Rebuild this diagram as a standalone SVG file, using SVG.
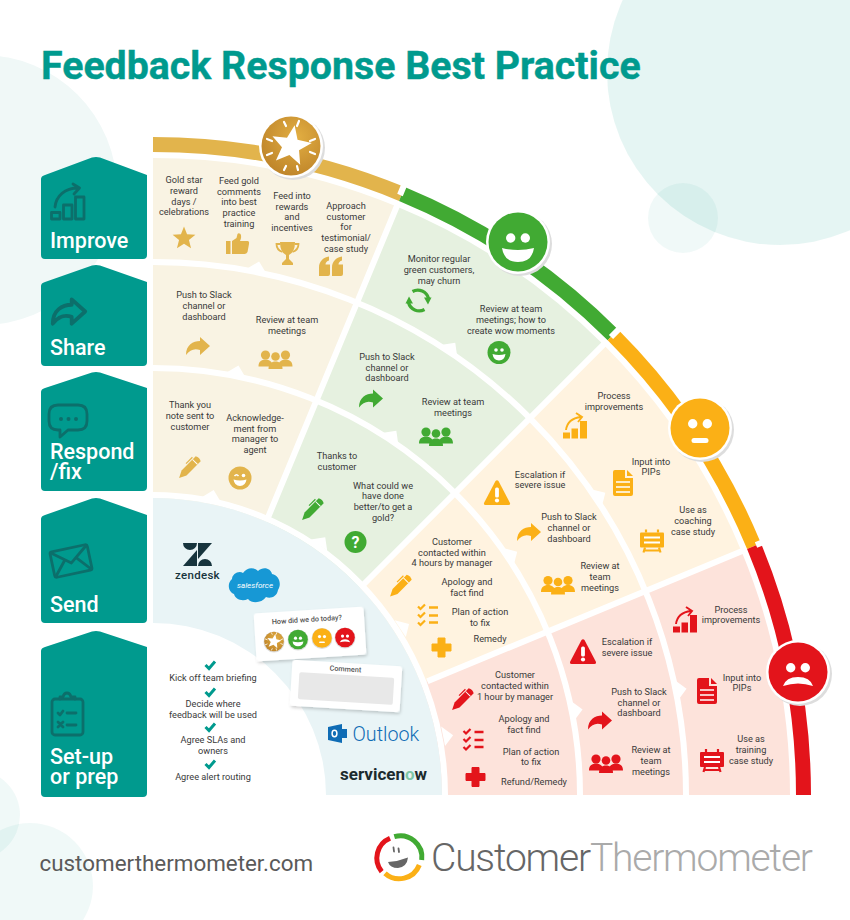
<svg xmlns="http://www.w3.org/2000/svg" width="850" height="920" viewBox="0 0 850 920">
<style>
text{font-family:Roboto,"Liberation Sans",sans-serif}
.t{font-size:9.2px;text-anchor:middle;fill:#3a3a3a}
.lab{font-size:21.5px;font-weight:500;fill:#fff}
.box{fill:#009A8E}
.di{fill:none;stroke:#0C6F6B;stroke-width:2.800;stroke-linejoin:round;stroke-linecap:round}
.g{color:#E2B44C;fill:#E2B44C}
.gr{color:#41AA33;fill:#41AA33}
.a{color:#FBB016;fill:#FBB016}
.r{color:#E3141B;fill:#E3141B}
.ring{fill:none;stroke:#fff;stroke-width:6}
.rad{fill:none;stroke:#fff;stroke-width:6}
.band{fill:none;stroke-width:15}
.card{fill:#fff;filter:url(#sh)}
.ck{fill:none;stroke:#009A8E;stroke-width:3}
</style>
<defs>
<filter id="sh" x="-20%" y="-20%" width="140%" height="140%"><feDropShadow dx="1" dy="2" stdDeviation="1.500" flood-color="#000" flood-opacity=".18"/></filter>
<radialGradient id="gold" cx=".6" cy=".35" r=".8"><stop offset="0" stop-color="#E2AE42"/><stop offset="1" stop-color="#B97E26"/></radialGradient>
<polygon id="tab" points="-11,2 0,-8 9,2" fill="#fff"/>
<polygon id="i-star" points="0,-12 3.06,-4.2 11.4,-3.7 4.95,1.6 7.05,9.7 0,5.2 -7.05,9.7 -4.95,1.6 -11.4,-3.7 -3.06,-4.2"/>
<path id="i-arrow" d="M-12,9C-12,-1-5,-5 2,-5L2,-9 12,0 2,9 2,4C-4,2-8,4-12,9Z"/>
<g id="i-people"><circle cx="-10" cy="-4.500" r="4.600"/><circle cx="10" cy="-4.500" r="4.600"/><circle cx="0" cy="-3" r="4.300"/><path d="M-17,7C-17,2-14,0-10,0-6,0-3,2-3,7ZM3,7C3,2 6,0 10,0 14,0 17,2 17,7Z"/><path d="M-7,9.500C-7,4-4,2 0,2 4,2 7,4 7,9.500Z"/></g>
<g id="i-pencil" transform="rotate(45)"><path d="M-3.500,-13Q0,-15 3.500,-13V7L0,14-3.500,7Z"/><path d="M-3.500,-8.500H3.500" stroke="#fff" stroke-width="1"/><path d="M-5.200,-10V-1" fill="none" stroke="currentColor" stroke-width="1.200"/></g>
<g id="i-smile"><circle r="11.500"/><circle cx="-3" cy="-2.500" r="1.800" fill="#fff"/><circle cx="3" cy="-2.500" r="1.800" fill="#fff"/><path d="M-6.500,1.500Q0,3.500 6.500,1.500 5.500,8 0,8-5.500,8-6.500,1.500Z" fill="#fff"/></g>
<g id="i-wink"><circle r="11.500"/><path d="M-5.500,-2Q-3.500,-4.500-1.500,-2" fill="none" stroke="#fff" stroke-width="1.500"/><circle cx="3.500" cy="-2.500" r="1.800" fill="#fff"/><path d="M-6.500,1.500Q0,3.500 6.500,1.500 5.500,8 0,8-5.500,8-6.500,1.500Z" fill="#fff"/></g>
<g id="i-refresh" fill="none" stroke="currentColor" stroke-width="3.200"><path d="M-6,-9A11,11 0 0 1 10,-2"/><path d="M6,9A11,11 0 0 1 -10,2"/><polygon points="5.500,-3 13,-3 9.500,4" fill="currentColor" stroke="none"/><polygon points="-5.500,3 -13,3 -9.500,-4" fill="currentColor" stroke="none"/></g>
<g id="i-warn"><path d="M-1.500,-11.500Q0,-13 1.500,-11.500L13,10.500Q13.500,12.500 11.500,12.500H-11.500Q-13.500,12.500 -13,10.500Z"/><rect x="-1.900" y="-5" width="3.800" height="10" rx="1.500" fill="#fff"/><circle cy="8" r="2.100" fill="#fff"/></g>
<g id="i-chart"><rect x="-12" y="6.500" width="7" height="6"/><rect x="-3.500" y="2.500" width="6.500" height="10"/><rect x="5" y="-5" width="7" height="17.500"/><path d="M-9,4C-8,-4-2,-8 6,-9M1,-13 7,-9 3,-4" fill="none" stroke="currentColor" stroke-width="1.900"/></g>
<g id="i-doc"><path d="M-10,-11Q-10,-13-8,-13H2V-5H10V11Q10,13 8,13H-8Q-10,13-10,11Z"/><path d="M4,-13 10,-7H4Z"/><path d="M-7,-1H7M-7,4H7M-7,9H7" stroke="#fff" stroke-width="1.700" fill="none"/></g>
<g id="i-easel"><rect x="-12" y="-8" width="24" height="15" rx="1"/><path d="M-6,-11V-8M6,-11V-8M-7,7-8.500,12M7,7 8.500,12M-7,10H7" fill="none" stroke="currentColor" stroke-width="2.200"/><path d="M-8,-3H8M-8,2H8" stroke="#fff" stroke-width="2" fill="none"/></g>
<g id="i-list" fill="none" stroke="currentColor" stroke-width="2.200"><path d="M-10,-8-7.500,-5.500-3,-10M-10,0-7.500,2.500-3,-2M-10,8-7.500,10.500-3,6"/><path d="M1,-7H10M1,1H10M1,8H10" stroke-width="2.400"/></g>
<path id="i-plus" d="M-3.500,-9.500H3.500V-3.500H9.500V3.500H3.500V9.500H-3.500V3.500H-9.500V-3.500H-3.500Z" stroke="currentColor" stroke-width="1" stroke-linejoin="round"/>
<path id="i-thumb" d="M-11.500,-3H-7V10H-11.500ZM-5.500,-3-1,-6 0,-10Q1,-11.500 3,-10 4.500,-7 2.500,-3H10Q12,-3 11.500,0L10,8Q9,10 7,10H-5.500Z"/>
<g id="i-trophy"><path d="M-7.500,-11H7.500Q7.500,-1 1.500,2V6L5.500,10V12H-5.500V10L-1.500,6V2Q-7.500,-1-7.500,-11Z"/><path d="M-7,-9H-11Q-11,-3-5,-1M7,-9H11Q11,-3 5,-1" fill="none" stroke="currentColor" stroke-width="1.800"/></g>
<path id="i-quote" d="M-12,9.500V1C-12,-5-8,-9-2,-10V-6C-4,-5.500-5.500,-4-5.500,-2H-1V7.500Q-1,9.500-3,9.500ZM1,9.500V1C1,-5 5,-9 11,-10V-6C9,-5.500 7.500,-4 7.500,-2H12V7.500Q12,9.500 10,9.500Z"/>
<g id="f-happy"><circle cx="-7.300" cy="-4" r="4.700" fill="#fff"/><circle cx="7.300" cy="-4" r="4.700" fill="#fff"/><path d="M-16,6Q0,10 16,6 14,20 0,20-14,20-16,6Z" fill="#fff"/></g>
<g id="f-neutral"><circle cx="-7.300" cy="-4.300" r="4.700" fill="#fff"/><circle cx="7.300" cy="-4.300" r="4.700" fill="#fff"/><rect x="-8.500" y="10" width="17" height="5" rx="2.500" fill="#fff"/></g>
<g id="f-sad"><circle cx="-7.300" cy="-4.300" r="4.700" fill="#fff"/><circle cx="7.300" cy="-4.300" r="4.700" fill="#fff"/><path d="M-15,14Q-12,5 0,5 12,5 15,14 0,9-15,14Z" fill="#fff"/></g>
<g id="f-star"><polygon transform="rotate(10) scale(1.750)" points="0,-12 3.06,-4.200 11.400,-3.700 4.950,1.600 7.050,9.700 0,5.200 -7.050,9.700 -4.950,1.600 -11.400,-3.700 -3.060,-4.200" fill="#fff"/><path d="M-7,-24-5,-20M8,-25 6,-20M24,-7 19,-5M24,8 19,6M-24,-7-19,-5M-24,9-19,7M-7,24-5,20M7,24 6,20" stroke="#fff" stroke-width="2.200" stroke-linecap="round" fill="none"/></g>
</defs>

<rect width="850" height="920" fill="#fff"/>
<g id="background">
<circle cx="-18" cy="190" r="135" fill="#F0F8F7"/>
<circle cx="780" cy="72" r="173" fill="#009A8E" opacity=".1"/>
<circle cx="683" cy="218" r="35" fill="#009A8E" opacity=".06"/>
<circle cx="-25" cy="815" r="45" fill="#009A8E" opacity=".06"/>
<circle cx="30" cy="886" r="63" fill="#009A8E" opacity=".06"/>
</g>
<text id="title" x="41" y="79" font-size="39.300" font-weight="700" fill="#009A8E" stroke="#009A8E" stroke-width=".4">Feedback Response Best Practice</text>

<g id="sectors">
<path d="M153,795V158A637,637 0 0 1 396.800,206.500Z" fill="#F9F3E3"/>
<path d="M153,795 396.800,206.500A637,637 0 0 1 603.400,344.600Z" fill="#E6F1E0"/>
<path d="M153,795 603.400,344.600A637,637 0 0 1 741.500,551.200Z" fill="#FFF3E0"/>
<path d="M153,795 741.500,551.200A637,637 0 0 1 790,795Z" fill="#FDE3DB"/>
<path class="ring" d="M153,262A533,533 0 0 1 686,795"/>
<path class="ring" d="M153,368A427,427 0 0 1 580,795"/>
<path class="ring" d="M153,495A292,300 0 0 1 445,795"/>
<path d="M266.700,520.600 405.600,185.200M363,585 619.700,328.300M427.400,681.300 762.800,542.400" class="rad"/>
<use href="#tab" transform="rotate(11.250 153 795) translate(153 259)"/>
<use href="#tab" transform="rotate(33.750 153 795) translate(153 259)"/>
<use href="#tab" transform="rotate(56.250 153 795) translate(153 259)"/>
<use href="#tab" transform="rotate(78.750 153 795) translate(153 259)"/>
<use href="#tab" transform="rotate(11.250 153 795) translate(153 365)"/>
<use href="#tab" transform="rotate(33.750 153 795) translate(153 365)"/>
<use href="#tab" transform="rotate(56.250 153 795) translate(153 365)"/>
<use href="#tab" transform="rotate(78.750 153 795) translate(153 365)"/>
<use href="#tab" transform="rotate(11.250 153 795) translate(153 492)"/>
<use href="#tab" transform="rotate(33.750 153 795) translate(153 493)"/>
<use href="#tab" transform="rotate(56.250 153 795) translate(153 495)"/>
<use href="#tab" transform="rotate(78.750 153 795) translate(153 497)"/>
<path id="send-zone" d="M153,498A289,297 0 0 1 442,795H153Z" fill="#E9F4F6"/>
<path id="setup-zone" d="M153,623A173,172 0 0 1 326,795H153Z" fill="#fff"/>
</g>

<g id="connectors">
<path class="band" stroke="#E2B44C" d="M153,144.500A650.500,650.500 0 0 1 401.900,194"/>
<path class="band" stroke="#41AA33" d="M401.900,194A650.500,650.500 0 0 1 613,335"/>
<path class="band" stroke="#FBB016" d="M613,335A650.500,650.500 0 0 1 754,546.100"/>
<path class="band" stroke="#E3141B" d="M754,546.100A650.500,650.500 0 0 1 803.500,795"/>
<path d="M400,195 407,178M611,337 624,324M756,545 773,538" class="rad"/>
</g>

<g id="row-improve"><path class="box" d="M45,175 92,157.500Q96,156.500 100,157.500L147,175V255Q147,259 143,259H45Q41,259 41,255V179Q41,176 45,175Z"/>
<path class="di" d="M51.500,212.500H60V219H51.500ZM63.500,205H72V219H63.500ZM75.500,197H84V219H75.500ZM55,207C56,196 65,188 78,188M73,184 79.500,188 74,194"/>
<text class="lab" x="50" y="247.500">Improve</text></g>
<g id="row-share"><path class="box" d="M45,282 92,265.500Q96,264.500 100,265.500L147,282V362Q147,366 143,366H45Q41,366 41,362V286Q41,283 45,282Z"/>
<path class="di" transform="translate(69 311.500) scale(1.350)" stroke-width="2" d="M-12,9C-12,-1-5,-5 2,-5L2,-9 12,0 2,9 2,4C-4,2-8,4-12,9Z"/>
<text class="lab" x="50" y="354.500">Share</text></g>
<g id="row-respond"><path class="box" d="M45,388 92,372.500Q96,371.500 100,372.500L147,388V487Q147,491 143,491H45Q41,491 41,487V392Q41,389 45,388Z"/>
<path class="di" d="M58,405H78Q87,405 87,414V421Q87,430 78,430H68L60,437V430H58Q49,430 49,421V414Q49,405 58,405Z"/>
<circle cx="61" cy="419" r="2" fill="#0C6F6B"/><circle cx="68.500" cy="419" r="2" fill="#0C6F6B"/><circle cx="76" cy="419" r="2" fill="#0C6F6B"/>
<text class="lab"><tspan x="50" y="459">Respond</tspan><tspan x="50" y="479">/fix</tspan></text></g>
<g id="row-send"><path class="box" d="M45,515 92,498.500Q96,497.500 100,498.500L147,515V619Q147,623 143,623H45Q41,623 41,619V519Q41,516 45,515Z"/>
<g transform="rotate(-12 71 561)"><rect class="di" x="52" y="548" width="38" height="26" rx="2"/><path class="di" d="M53,549 71,563 89,549M53,573 65,559M89,573 77,559"/></g>
<text class="lab" x="50" y="612">Send</text></g>
<g id="row-setup"><path class="box" d="M45,647 92,631.500Q96,630.500 100,631.500L147,647V793Q147,797 143,797H45Q41,797 41,793V651Q41,648 45,647Z"/>
<rect class="di" x="52" y="699" width="31" height="36" rx="3"/><path class="di" d="M60,699V697H63Q64,693 67,693 70,693 71,697H75V699M58,713 60,715 63,711M67,713H76M58,722 63,727M63,722 58,727M67,725H76"/>
<text class="lab"><tspan x="50" y="763.500">Set-up</tspan><tspan x="50" y="783.500">or prep</tspan></text></g>

<g id="gold-improve">
<text class="t"><tspan x="184" y="182.500">Gold star</tspan><tspan x="184" y="193.500">reward</tspan><tspan x="184" y="204.500">days /</tspan><tspan x="184" y="215">celebrations</tspan></text>
<text class="t"><tspan x="239" y="183.500">Feed gold</tspan><tspan x="239" y="194.500">comments</tspan><tspan x="239" y="205">into best</tspan><tspan x="239" y="216">practice</tspan><tspan x="239" y="226.500">training</tspan></text>
<text class="t"><tspan x="292" y="198.500">Feed into</tspan><tspan x="292" y="209.500">rewards</tspan><tspan x="292" y="220">and</tspan><tspan x="292" y="231">incentives</tspan></text>
<text class="t"><tspan x="346" y="208.500">Approach</tspan><tspan x="346" y="219.500">customer</tspan><tspan x="346" y="230">for</tspan><tspan x="346" y="241">testimonial/</tspan><tspan x="346" y="251.500">case study</tspan></text>
<use href="#i-star" class="g" transform="translate(184 238.500)"/><use href="#i-thumb" class="g" transform="translate(237.500 244)"/><use href="#i-trophy" class="g" transform="translate(287.500 253)"/><use href="#i-quote" class="g" transform="translate(331 266.500)"/>
</g>
<g id="gold-share">
<text class="t"><tspan x="204" y="297.500">Push to Slack</tspan><tspan x="204" y="308.500">channel or</tspan><tspan x="204" y="319.500">dashboard</tspan></text>
<text class="t"><tspan x="287" y="322.500">Review at team</tspan><tspan x="287" y="333.500">meetings</tspan></text>
<use href="#i-arrow" class="g" transform="translate(198 346)"/><use href="#i-people" class="g" transform="translate(275.500 359.500)"/>
</g>
<g id="gold-respond">
<text class="t"><tspan x="190" y="407.500">Thank you</tspan><tspan x="190" y="418.500">note sent to</tspan><tspan x="190" y="429.500">customer</tspan></text>
<text class="t"><tspan x="255" y="420.500">Acknowledge-</tspan><tspan x="255" y="431.500">ment from</tspan><tspan x="255" y="442">manager to</tspan><tspan x="255" y="453">agent</tspan></text>
<use href="#i-pencil" class="g" transform="translate(189 468)"/><use href="#i-wink" class="g" transform="translate(240 478)"/>
</g>
<g id="green-improve">
<text class="t"><tspan x="439" y="261.500">Monitor regular</tspan><tspan x="439" y="272.500">green customers,</tspan><tspan x="439" y="283.500">may churn</tspan></text>
<text class="t"><tspan x="511" y="311.500">Review at team</tspan><tspan x="511" y="322.500">meetings; how to</tspan><tspan x="511" y="333.500">create wow moments</tspan></text>
<use href="#i-refresh" class="gr" transform="translate(418.500 300.500)"/><use href="#i-smile" class="gr" transform="translate(499 352.500)"/>
</g>
<g id="green-share">
<text class="t"><tspan x="387" y="359.500">Push to Slack</tspan><tspan x="387" y="370.500">channel or</tspan><tspan x="387" y="381">dashboard</tspan></text>
<text class="t"><tspan x="453" y="404.500">Review at team</tspan><tspan x="453" y="415.500">meetings</tspan></text>
<use href="#i-arrow" class="gr" transform="translate(371 398.500)"/><use href="#i-people" class="gr" transform="translate(436 436.500)"/>
</g>
<g id="green-respond">
<text class="t"><tspan x="337" y="458.500">Thanks to</tspan><tspan x="337" y="469.500">customer</tspan></text>
<text class="t"><tspan x="383" y="488.500">What could we</tspan><tspan x="383" y="499">have done</tspan><tspan x="383" y="510">better/to get a</tspan><tspan x="383" y="520.500">gold?</tspan></text>
<use href="#i-pencil" class="gr" transform="translate(312 510)"/>
<circle class="gr" cx="355.500" cy="542" r="11"/><text x="355.500" y="547.500" font-size="16" font-weight="700" fill="#fff" text-anchor="middle">?</text>
</g>
<g id="amber-improve">
<text class="t"><tspan x="614" y="398.500">Process</tspan><tspan x="614" y="409.500">improvements</tspan></text>
<text class="t"><tspan x="651" y="464.500">Input into</tspan><tspan x="651" y="475">PIPs</tspan></text>
<text class="t"><tspan x="693" y="512.500">Use as</tspan><tspan x="693" y="523.500">coaching</tspan><tspan x="693" y="534.500">case study</tspan></text>
<use href="#i-chart" class="a" transform="translate(575 426)"/><use href="#i-doc" class="a" transform="translate(623 483)"/><use href="#i-easel" class="a" transform="translate(652 540.500)"/>
</g>
<g id="amber-share">
<text class="t"><tspan x="540" y="477.500">Escalation if</tspan><tspan x="540" y="488">severe issue</tspan></text>
<text class="t"><tspan x="569" y="519.500">Push to Slack</tspan><tspan x="569" y="530.500">channel or</tspan><tspan x="569" y="541.500">dashboard</tspan></text>
<text class="t"><tspan x="600" y="568.500">Review at</tspan><tspan x="600" y="579.500">team</tspan><tspan x="600" y="590.500">meetings</tspan></text>
<use href="#i-warn" class="a" transform="translate(497 492.500)"/><use href="#i-arrow" class="a" transform="translate(529 532)"/><use href="#i-people" class="a" transform="translate(558 585)"/>
</g>
<g id="amber-respond">
<text class="t"><tspan x="452" y="544.500">Customer</tspan><tspan x="452" y="555.500">contacted within</tspan><tspan x="452" y="566">4 hours by manager</tspan></text>
<text class="t"><tspan x="467" y="584.500">Apology and</tspan><tspan x="467" y="595.500">fact find</tspan></text>
<text class="t"><tspan x="480" y="614.500">Plan of action</tspan><tspan x="480" y="625.500">to fix</tspan></text>
<text class="t" x="490" y="641.500">Remedy</text>
<use href="#i-pencil" class="a" transform="translate(400 586.500)"/><use href="#i-list" class="a" transform="translate(428 614.500)"/><use href="#i-plus" class="a" transform="translate(441.500 647.500)"/>
</g>
<g id="red-improve">
<text class="t"><tspan x="731" y="612.500">Process</tspan><tspan x="731" y="623">improvements</tspan></text>
<text class="t"><tspan x="742" y="680.500">Input into</tspan><tspan x="742" y="691">PIPs</tspan></text>
<text class="t"><tspan x="751" y="741.500">Use as</tspan><tspan x="751" y="752.500">training</tspan><tspan x="751" y="763.500">case study</tspan></text>
<use href="#i-chart" class="r" transform="translate(685 620)"/><use href="#i-doc" class="r" transform="translate(707 691)"/><use href="#i-easel" class="r" transform="translate(712 760)"/>
</g>
<g id="red-share">
<text class="t"><tspan x="627" y="644.500">Escalation if</tspan><tspan x="627" y="655.500">severe issue</tspan></text>
<text class="t"><tspan x="639" y="694.500">Push to Slack</tspan><tspan x="639" y="705.500">channel or</tspan><tspan x="639" y="715.500">dashboard</tspan></text>
<text class="t"><tspan x="651" y="752.500">Review at</tspan><tspan x="651" y="763.500">team</tspan><tspan x="651" y="774.500">meetings</tspan></text>
<use href="#i-warn" class="r" transform="translate(583 651.500)"/><use href="#i-arrow" class="r" transform="translate(600 720.500)"/><use href="#i-people" class="r" transform="translate(606 763.500)"/>
</g>
<g id="red-respond">
<text class="t"><tspan x="515" y="677.500">Customer</tspan><tspan x="515" y="688.500">contacted within</tspan><tspan x="515" y="699.500">1 hour by manager</tspan></text>
<text class="t"><tspan x="524" y="721.500">Apology and</tspan><tspan x="524" y="732.500">fact find</tspan></text>
<text class="t"><tspan x="531" y="754.500">Plan of action</tspan><tspan x="531" y="764.500">to fix</tspan></text>
<text class="t" x="534" y="784.500">Refund/Remedy</text>
<use href="#i-pencil" class="r" transform="translate(462 700)"/><use href="#i-list" class="r" transform="translate(473.500 739)"/><use href="#i-plus" class="r" transform="translate(475.500 777)"/>
</g>

<g id="setup-list">
<path class="ck" d="M205.500,665 209,668.500 215,661.500M205.500,692 209,695.500 215,688.500M205.500,727 209,730.500 215,723.500M205.500,764 209,767.500 215,760.500"/>
<text class="t" x="213" y="680.500">Kick off team briefing</text>
<text class="t"><tspan x="213" y="706.500">Decide where</tspan><tspan x="213" y="717.500">feedback will be used</tspan></text>
<text class="t"><tspan x="213" y="742.500">Agree SLAs and</tspan><tspan x="213" y="753.500">owners</tspan></text>
<text class="t" x="213" y="779.500">Agree alert routing</text>
</g>

<g id="logo-zendesk" fill="#17343D">
<polygon points="183,566 197,566 197,550"/><polygon points="212,543 198,543 198,559"/><path d="M183,543H197A7,7 0 0 1 183,543ZM198,566A7,7 0 0 1 212,566Z"/>
<text x="175" y="579" font-size="11.500" font-weight="500" letter-spacing=".3">zendesk</text>
</g>
<g id="logo-salesforce">
<path d="M243,573C247,567 254,567 258,571 263,566 271,568 272,574 279,575 282,584 278,590 277,597 270,599 266,597 262,603 252,604 248,599 242,602 235,599 234,594 228,592 227,583 232,579 232,574 239,570 243,573Z" fill="#1798D5"/>
<text x="255" y="587.500" font-size="8" font-style="italic" fill="#fff" text-anchor="middle">salesforce</text>
</g>

<g id="card-rating">
<rect class="card" x="255" y="610" width="110" height="48" rx="3" transform="rotate(-3.600 310 634)"/>
<text x="307" y="622" font-size="7.200" font-weight="500" fill="#555" text-anchor="middle" transform="rotate(-3.600 307 622)">How did we do today?</text>
<circle cx="274" cy="642" r="10.500" fill="#ddd"/><circle cx="274" cy="641.500" r="9.800" fill="url(#gold)"/><use href="#f-star" transform="translate(274 641.500) scale(.36)"/>
<circle cx="298" cy="640" r="10.500" fill="#ddd"/><circle cx="298" cy="639.500" r="9.800" fill="#41AA33"/><use href="#f-happy" transform="translate(298 639.500) scale(.34)"/>
<circle cx="322" cy="638.500" r="10.500" fill="#ddd"/><circle cx="322" cy="638" r="9.800" fill="#FBB016"/><use href="#f-neutral" transform="translate(322 638) scale(.34)"/>
<circle cx="345" cy="638" r="10.500" fill="#ddd"/><circle cx="345" cy="637.500" r="9.800" fill="#E3141B"/><use href="#f-sad" transform="translate(345 637.500) scale(.34)"/>
</g>
<g id="card-comment">
<rect class="card" x="291" y="663" width="110" height="46" rx="3" transform="rotate(3.500 346 686)"/>
<text x="345.500" y="671.500" font-size="7.200" font-weight="500" fill="#555" text-anchor="middle" transform="rotate(3.500 345 669)">Comment</text>
<rect x="298.500" y="675" width="95" height="27" rx="2" fill="#E8E8E8" transform="rotate(3.500 346 689)"/>
</g>

<g id="logo-outlook">
<path d="M328,727 342,724V743L328,740Z" fill="#0F6CB5"/><path d="M342,729H347V738H342Z" fill="#0F6CB5"/><ellipse cx="334.500" cy="733.500" rx="2.400" ry="3.200" fill="none" stroke="#fff" stroke-width="1.500"/>
<text x="352.500" y="740.500" font-size="19.700" font-weight="300" fill="#0F6CB5">Outlook</text>
</g>
<text id="logo-servicenow" x="340" y="779.500" font-size="17" font-weight="700" fill="#1C2B2E">servicen<tspan fill="#7FC7A8">o</tspan>w</text>

<g id="face-gold"><circle cx="293" cy="148" r="32" fill="#ddd"/><circle cx="291" cy="146" r="32" fill="#fff"/><circle cx="291" cy="146" r="29.500" fill="url(#gold)"/><use href="#f-star" transform="translate(291 146)"/></g>
<g id="face-green"><circle cx="520" cy="244" r="32" fill="#ddd"/><circle cx="518" cy="242" r="32" fill="#fff"/><circle cx="518" cy="242" r="29.500" fill="#41AA33"/><use href="#f-happy" transform="translate(518 242)"/></g>
<g id="face-amber"><circle cx="702" cy="430" r="32" fill="#ddd"/><circle cx="700" cy="428" r="32" fill="#fff"/><circle cx="700" cy="428" r="29.500" fill="#FBB016"/><use href="#f-neutral" transform="translate(700 428)"/></g>
<g id="face-red"><circle cx="800" cy="674" r="32" fill="#ddd"/><circle cx="798" cy="672" r="32" fill="#fff"/><circle cx="798" cy="672" r="29.500" fill="#E3141B"/><use href="#f-sad" transform="translate(798 672)"/></g>

<text id="website" x="39.500" y="871" font-size="22.400" fill="#5a5a5a">customerthermometer.com</text>
<g id="logo-ct">
<g fill="none" stroke-width="5"><path d="M381.700,871.700A21.500,21.500 0 0 1 390,838.300" stroke="#E3141B"/><path d="M394.300,836.700A21.500,21.500 0 0 1 421.700,860" stroke="#41AA33"/><path d="M419.300,865A21.500,21.500 0 0 1 385,873.300" stroke="#FBB016"/></g>
<path d="M388,862Q398,861.500 408,857.500 407,867 398,868 390,868 388,862Z" fill="#666"/><path d="M393.500,847.500 394,851.500M398.500,848.500 399,852" stroke="#666" stroke-width="1.800" stroke-linecap="round"/>
<text x="431" y="870.500" font-size="39" font-family="Lato,sans-serif" font-weight="300" textLength="382" lengthAdjust="spacing" fill="#666">Customer<tspan fill="#aaa">Thermometer</tspan></text>
</g>
</svg>
